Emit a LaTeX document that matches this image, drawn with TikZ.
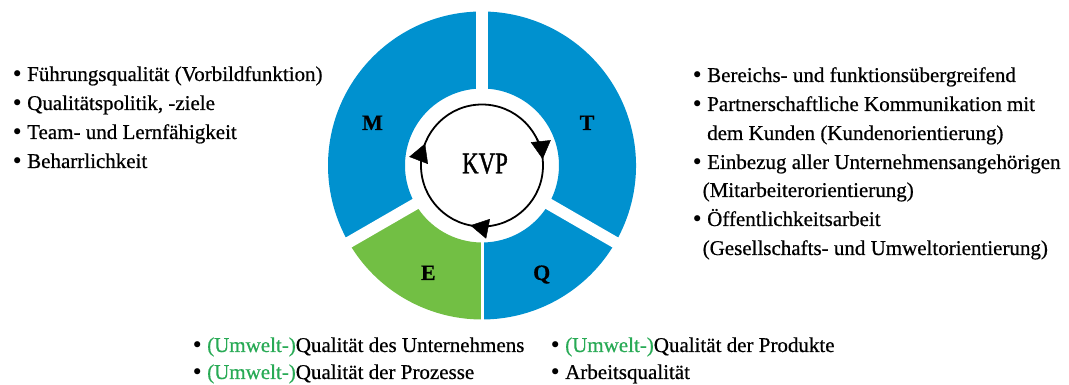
\documentclass[tikz,border=0pt]{standalone}
\usepackage{fontspec}
\setmainfont{Liberation Serif}[FakeBold=0.6]
\newfontfamily\kvpfont{Liberation Serif}[FakeStretch=0.76, FakeBold=1.2]
\newfontfamily\bulfont{DejaVu Sans}
\usepackage{tikz}
\usetikzlibrary{arrows.meta}
\definecolor{kvpblue}{RGB}{0,145,207}
\definecolor{kvpgreen}{RGB}{114,191,68}
\definecolor{umweltgreen}{RGB}{40,170,85}
\newcommand{\umwelt}{\textcolor{umweltgreen}{(Umwelt-)}}
\newcommand{\bul}{\makebox[16pt][l]{\raisebox{-1pt}{\bulfont •}}}

\begin{document}
\begin{tikzpicture}[x=1pt, y=1pt,
  seglabel/.style={anchor=base, inner sep=0pt, font=\fontsize{22}{22}\selectfont\bfseries},
  item/.style={anchor=base west, inner sep=0pt, font=\fontsize{21}{29}\selectfont},
  gap/.style={white, line width=11.5pt},
  cyc/.style={-{Triangle[length=18pt, width=20pt]}}]
  \useasboundingbox (0,0) rectangle (1069,385);

  % Ring
  \begin{scope}[shift={(482,219.5)}]
    \fill[kvpblue] (90:154) arc[start angle=90, end angle=210, radius=154]
      -- (210:77) arc[start angle=210, end angle=90, radius=77] -- cycle;
    \fill[kvpblue] (-30:154) arc[start angle=-30, end angle=90, radius=154]
      -- (90:77) arc[start angle=90, end angle=-30, radius=77] -- cycle;
    \fill[kvpgreen] (210:154) arc[start angle=210, end angle=270, radius=154]
      -- (270:77) arc[start angle=270, end angle=210, radius=77] -- cycle;
    \fill[kvpblue] (270:154) arc[start angle=270, end angle=330, radius=154]
      -- (330:77) arc[start angle=330, end angle=270, radius=77] -- cycle;

    % Gaps
    \draw[gap] (0,0) -- (90:160);
    \draw[gap] (0,0) -- (210:160);
    \draw[gap] (0,0) -- (330:160);
    \draw[gap, line width=3pt] (0,0) -- (270:160);

    % Cycle
    \draw[line width=1.8pt] (0,0) circle[radius=61];
    \draw[cyc] (190:61) arc[start angle=190, end angle=159, radius=61];
    \draw[cyc] (40:61) arc[start angle=40, end angle=6, radius=61];
    \draw[cyc] (290:61) arc[start angle=290, end angle=259, radius=61];
  \end{scope}

  \node[anchor=base, inner sep=0pt, font=\fontsize{30}{30}\kvpfont] (kvp) at (485,211.7) {KVP};

  % Segments
  \node[seglabel] (m) at (372.5,255) {M};
  \node[seglabel] (t) at (587,255) {T};
  \node[seglabel] (e) at (428.3,105) {E};
  \node[seglabel] (q) at (541.7,105) {Q};

  % M
  \node[item] (m1) at (11,304) {\bul Führungsqualität (Vorbildfunktion)};
  \node[item] (m2) at (11,275) {\bul Qualitätspolitik, -ziele};
  \node[item] (m3) at (11,246) {\bul Team- und Lernfähigkeit};
  \node[item] (m4) at (11,217) {\bul Beharrlichkeit};

  % T
  \node[item] (t1) at (691,303) {\bul Bereichs- und funktionsübergreifend};
  \node[item] (t2) at (691,274) {\bul Partnerschaftliche Kommunikation mit};
  \node[item] (t3) at (707,245) {dem Kunden (Kundenorientierung)};
  \node[item] (t4) at (691,216) {\bul Einbezug aller Unternehmensangehörigen};
  \node[item] (t5) at (702.5,188) {(Mitarbeiterorientierung)};
  \node[item] (t6) at (691,159) {\bul Öffentlichkeitsarbeit};
  \node[item] (t7) at (702.5,130) {(Gesellschafts- und Umweltorientierung)};

  % E, Q
  \node[item] (q1) at (191,33) {\bul \umwelt Qualität des Unternehmens};
  \node[item] (q2) at (191,6) {\bul \umwelt Qualität der Prozesse};
  \node[item] (q3) at (549,33) {\bul \umwelt Qualität der Produkte};
  \node[item] (q4) at (549,6) {\bul Arbeitsqualität};
\end{tikzpicture}
\end{document}
